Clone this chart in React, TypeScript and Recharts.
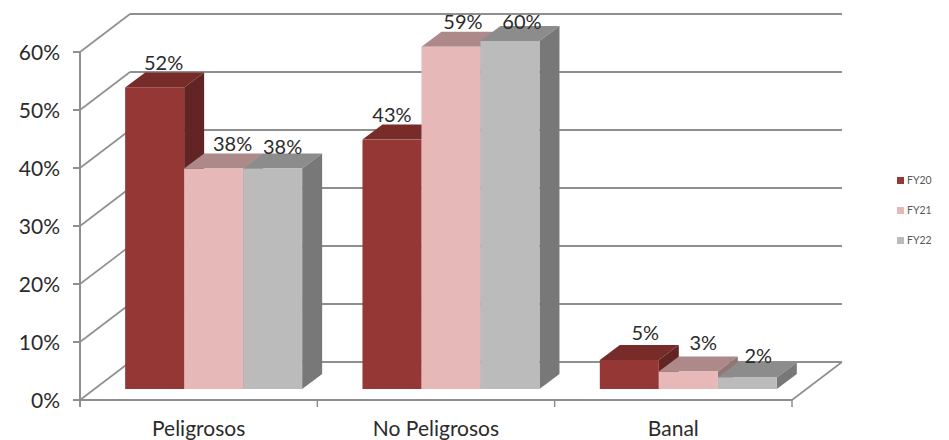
import React from 'react';
import { BarChart, Bar, XAxis, YAxis, Legend, LabelList, CartesianGrid, usePlotArea } from 'recharts';

const CATEGORIES = ['Peligrosos', 'No Peligrosos', 'Banal'];
const FY20 = [52, 43, 5];
const FY21 = [38, 59, 3];
const FY22 = [38, 60, 2];
const Y_TICKS = [0, 10, 20, 30, 40, 50, 60];

const SERIES = [
    { key: 'FY20', values: FY20, front: '#953735', top: '#772c2a', side: '#632523' },
    { key: 'FY21', values: FY21, front: '#e6b9b8', top: '#ad8a89', side: '#937574' },
    { key: 'FY22', values: FY22, front: '#bbbbbb', top: '#8c8c8c', side: '#787878' },
];

// label offsets from the top-centre of each bar, per series then category
const LABEL_NUDGE: Record<string, number[][]> = {
    FY20: [[9, -25], [0, -26], [16, -28]],
    FY21: [[19, -26], [12, -26], [15, -30]],
    FY22: [[10, -23], [12, -20], [11, -22]],
};

const data = CATEGORIES.map((name, i) => ({
    name,
    FY20: FY20[i],
    FY21: FY21[i],
    FY22: FY22[i],
}));

const FONT = 'Lato, sans-serif';
const GRID = '#8f8f8f';
const TEXT = '#2b2b2b';

// the bars stand inside the floor, so the front plane sits a bit left and below them
const PLANE_DX = 15;
const PLANE_DY = 11;
// how far the back wall is from the front plane
const WALL_DX = 50;
const WALL_DY = 38;
// depth of a single bar
const BAR_DX = 20;
const BAR_DY = 15;

const YTick = ({ x, y, payload }: any) => {
    const fy = y + PLANE_DY;
    return (
        <g>
            <line x1={x - 7} x2={x} y1={fy} y2={fy} stroke={GRID} strokeWidth={2} />
            <text x={x - 20} y={fy - 1} textAnchor="end" dominantBaseline="central" fontFamily={FONT} fontSize={21} fill={TEXT}>
                {`${payload.value}%`}
            </text>
        </g>
    );
};

const XTick = ({ x, payload }: any) => (
    <text x={x - PLANE_DX} y={427} textAnchor="middle" dominantBaseline="central" fontFamily={FONT} fontSize={21} fill={TEXT}>
        {payload.value}
    </text>
);

// one gridline: up the side wall, then along the back wall
const wallLine = ({ x1, x2, y1 }: any) => {
    const left = x1 - PLANE_DX;
    const right = x2 - PLANE_DX + WALL_DX;
    const fy = y1 + PLANE_DY;
    const backY = fy - WALL_DY;
    return (
        <g key={`wall-${y1}`}>
            <line x1={left} x2={left + WALL_DX} y1={fy} y2={backY} stroke={GRID} strokeWidth={1.6} />
            <line x1={left + WALL_DX} x2={right} y1={backY} y2={backY} stroke={GRID} strokeWidth={2} />
        </g>
    );
};

// vertical axis, floor outline and category separators
const Frame = () => {
    const plot = usePlotArea();
    if (!plot) return null;
    const left = plot.x - PLANE_DX;
    const right = left + plot.width;
    const floor = plot.y + plot.height + PLANE_DY;
    const top = plot.y + PLANE_DY;
    const band = plot.width / CATEGORIES.length;
    return (
        <g stroke={GRID} fill="none">
            <line x1={left} x2={left} y1={top} y2={floor + 7} strokeWidth={2} />
            <line x1={left} x2={right} y1={floor} y2={floor} strokeWidth={2} />
            <line x1={right} x2={right + WALL_DX} y1={floor} y2={floor - WALL_DY} strokeWidth={1.6} />
            {CATEGORIES.map((c, i) => (
                <line key={c} x1={left + band * (i + 1)} x2={left + band * (i + 1)} y1={floor} y2={floor + 7} strokeWidth={1.5} />
            ))}
        </g>
    );
};

const box = (top: string, side: string) => ({ x, y, width, height, fill }: any) => {
    const r = x + width;
    const b = y + height;
    return (
        <g>
            <polygon points={`${x},${y} ${x + BAR_DX},${y - BAR_DY} ${r + BAR_DX},${y - BAR_DY} ${r},${y}`} fill={top} />
            <polygon points={`${r},${y} ${r + BAR_DX},${y - BAR_DY} ${r + BAR_DX},${b - BAR_DY} ${r},${b}`} fill={side} />
            <rect x={x} y={y} width={width} height={height} fill={fill} />
        </g>
    );
};

const valueLabel = (key: string) => ({ x, y, width, value, index }: any) => {
    const [dx, dy] = LABEL_NUDGE[key][index];
    return (
        <text x={x + width / 2 + dx} y={y + dy} textAnchor="middle" dominantBaseline="central" fontFamily={FONT} fontSize={20} fill={TEXT}>
            {`${value}%`}
        </text>
    );
};

const LegendBox = () => (
    <div style={{ width: 52, fontFamily: FONT, fontSize: 10.5, color: '#595959' }}>
        {SERIES.map(s => (
            <div key={s.key} style={{ height: 30, display: 'flex', alignItems: 'center' }}>
                <span style={{ width: 7, height: 7, background: s.front, marginRight: 3 }} />
                {s.key}
            </div>
        ))}
    </div>
);

export default function App() {
    return (
        <div style={{ position: 'absolute', left: 0, top: 0, width: 949, height: 440, background: '#fff' }}>
            <BarChart
                width={949}
                height={440}
                data={data}
                margin={{ top: 41, right: 90, left: 0, bottom: 0 }}
                barCategoryGap="12.7%"
                barGap={0}
            >
                <CartesianGrid vertical={false} horizontal={wallLine} />
                <XAxis dataKey="name" height={51} axisLine={false} tickLine={false} interval={0} tick={XTick} />
                <YAxis
                    width={95}
                    domain={[0, 60]}
                    ticks={Y_TICKS}
                    axisLine={false}
                    tickLine={false}
                    tickSize={0}
                    tickMargin={15}
                    tick={YTick}
                />
                <Frame />
                <Legend
                    layout="vertical"
                    align="right"
                    verticalAlign="top"
                    content={LegendBox}
                    wrapperStyle={{ left: 897, top: 165, width: 52 }}
                />
                {SERIES.map(s => (
                    <Bar key={s.key} dataKey={s.key} fill={s.front} shape={box(s.top, s.side)} isAnimationActive={false}>
                        <LabelList dataKey={s.key} content={valueLabel(s.key)} />
                    </Bar>
                ))}
            </BarChart>
        </div>
    );
}
